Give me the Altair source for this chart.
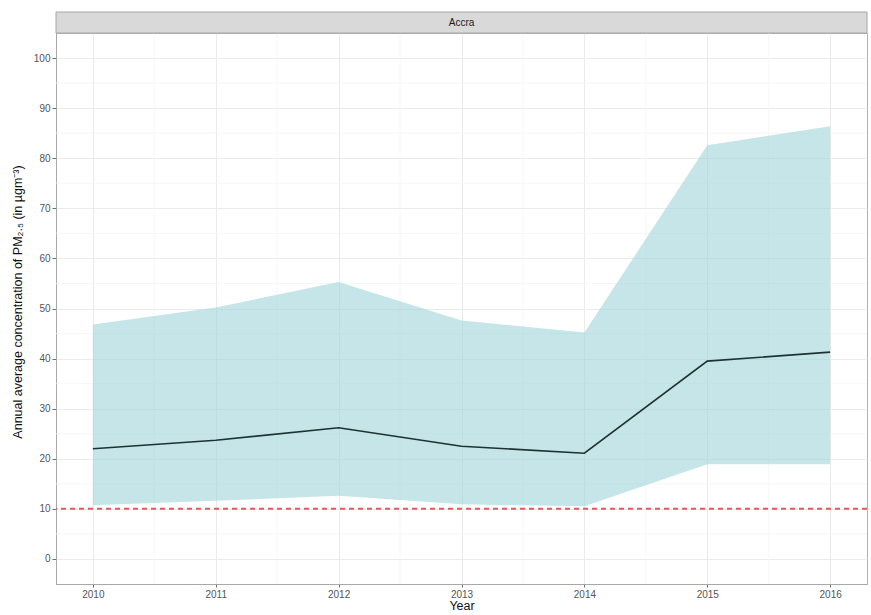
import altair as alt
import pandas as pd

# Annual PM2.5 summary for Accra
years = [2010, 2011, 2012, 2013, 2014, 2015, 2016]
mean_pm25 = [22.0, 23.7, 26.2, 22.5, 21.1, 39.5, 41.3]
upper_pm25 = [46.8, 50.2, 55.3, 47.6, 45.2, 82.6, 86.4]
lower_pm25 = [10.7, 11.6, 12.6, 10.9, 10.5, 18.9, 18.9]
who_guideline = 10
city = "Accra"

x_minor = [2010.5, 2011.5, 2012.5, 2013.5, 2014.5, 2015.5]
y_minor = [5, 15, 25, 35, 45, 55, 65, 75, 85, 95]

W, H = 811, 551
FONT = "Liberation Sans"

df = pd.DataFrame({"year": years, "mean": mean_pm25,
                   "upper": upper_pm25, "lower": lower_pm25})

x_scale = alt.Scale(domain=[2009.7, 2016.3], nice=False, zero=False)
y_scale = alt.Scale(domain=[-5, 105], nice=False, zero=False)

x_axis = alt.Axis(values=years, format="d", title="Year", grid=True,
                  gridColor="#ebebeb", gridWidth=1.1,
                  domainColor="#a8a8a8", tickColor="#6e6e6e", tickSize=3,
                  labelColor="#555555", labelFontSize=10, labelPadding=2,
                  titleFontSize=12.5, titleFontWeight="normal", titleColor="#111111",
                  titlePadding=0)
y_axis = alt.Axis(values=list(range(0, 101, 10)),
                  title="Annual average concentration of PM₂.₅ (in µgm⁻³)",
                  grid=True, gridColor="#ebebeb", gridWidth=1.1,
                  domainColor="#a8a8a8", tickColor="#6e6e6e", tickSize=4,
                  labelColor="#555555", labelFontSize=10, labelPadding=2,
                  titleFontSize=12.5, titleFontWeight="normal", titleColor="#111111",
                  titleX=-39, titleY=H / 2 - 7, titleAngle=-90, titleAlign="center",
                  titleBaseline="middle")

X = lambda f: alt.X(f, scale=x_scale, axis=x_axis)
Y = lambda f: alt.Y(f, scale=y_scale, axis=y_axis)

# minor grid lines
minor_x = alt.Chart(pd.DataFrame({"x": x_minor})).mark_rule(
    color="#f4f4f4", strokeWidth=0.8).encode(x=X("x:Q"))
minor_y = alt.Chart(pd.DataFrame({"y": y_minor})).mark_rule(
    color="#f4f4f4", strokeWidth=0.8).encode(y=Y("y:Q"))

base = alt.Chart(df)
ribbon = base.mark_area(color="#9fd3d8", opacity=0.6).encode(
    x=X("year:Q"), y=Y("lower:Q"), y2="upper:Q")
line = base.mark_line(color="#1f3233", strokeWidth=1.6).encode(
    x=X("year:Q"), y=Y("mean:Q"))
guide = alt.Chart(pd.DataFrame({"g": [who_guideline]})).mark_rule(
    color="#e2585c", strokeWidth=2, strokeDash=[5, 4], clip=True).encode(y=Y("g:Q"))

# facet strip above the panel
strip = alt.Chart(pd.DataFrame({"c": [city]})).mark_rect(
    fill="#d9d9d9", stroke="#a6a6a6", strokeWidth=1).encode(
    x=alt.value(0), x2=alt.value(W), y=alt.value(-21), y2=alt.value(0))
strip_text = alt.Chart(pd.DataFrame({"c": [city]})).mark_text(
    font=FONT, fontSize=10, color="#1a1a1a", baseline="middle").encode(
    x=alt.value(W / 2), y=alt.value(-10.5), text="c:N")

chart = alt.layer(minor_x, minor_y, ribbon, line, guide, strip, strip_text).properties(
    width=W, height=H,
    autosize=alt.AutoSizeParams(type="none"),
    padding={"left": 56, "top": 33, "right": 4, "bottom": 31},
).configure(font=FONT).configure_view(stroke="#b0b0b0", strokeWidth=1)

chart.save("out.html", embed_options={"renderer": "svg", "actions": False})
